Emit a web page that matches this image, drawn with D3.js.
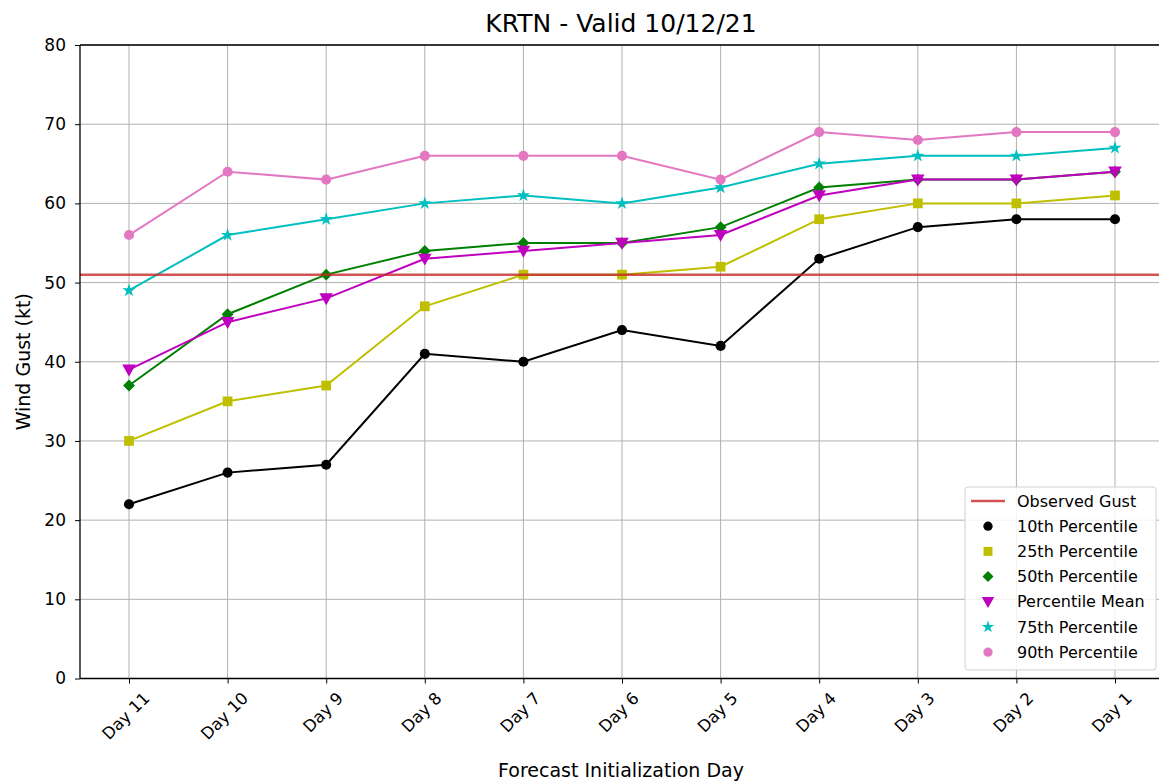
<!DOCTYPE html>
<html>
<head>
<meta charset="utf-8">
<script src="https://cdn.jsdelivr.net/npm/d3@7"></script>
<style>
  html, body { margin: 0; padding: 0; background: #ffffff; }
  svg { display: block; font-family: "DejaVu Sans", sans-serif; }
</style>
</head>
<body>
<svg id="chart" width="1159" height="782"></svg>
<script>
// Forecast initialization days (oldest to newest)
const days = ["Day 11", "Day 10", "Day 9", "Day 8", "Day 7", "Day 6", "Day 5", "Day 4", "Day 3", "Day 2", "Day 1"];

// Forecast wind gust percentiles (kt)
const p10  = [22, 26, 27, 41, 40, 44, 42, 53, 57, 58, 58];
const p25  = [30, 35, 37, 47, 51, 51, 52, 58, 60, 60, 61];
const p50  = [37, 46, 51, 54, 55, 55, 57, 62, 63, 63, 64];
const pMean = [39, 45, 48, 53, 54, 55, 56, 61, 63, 63, 64];
const p75  = [49, 56, 58, 60, 61, 60, 62, 65, 66, 66, 67];
const p90  = [56, 64, 63, 66, 66, 66, 63, 69, 68, 69, 69];

// Observed peak gust (kt)
const observedGust = 51;

const yTicks = [0, 10, 20, 30, 40, 50, 60, 70, 80];

const series = [
  { name: "10th Percentile", values: p10, color: "#000000", symbol: d3.symbolCircle, size: 80 },
  { name: "25th Percentile", values: p25, color: "#bfbf00", symbol: d3.symbolSquare, size: 95 },
  { name: "50th Percentile", values: p50, color: "#008000", symbol: d3.symbolDiamond2, size: 90 },
  { name: "Percentile Mean", values: pMean, color: "#bf00bf", symbol: "triDown", size: 60 },
  { name: "75th Percentile", values: p75, color: "#00bfbf", symbol: d3.symbolStar, size: 55 },
  { name: "90th Percentile", values: p90, color: "#e377c2", symbol: d3.symbolCircle, size: 80 }
];

const svg = d3.select("#chart");
const margin = { left: 80, top: 45, right: 1164, bottom: 678.5 };

const x = d3.scalePoint().domain(days).range([129, 1115]);
const y = d3.scaleLinear().domain([0, 80]).range([margin.bottom, margin.top]);

// Downward-pointing triangle symbol
const triDown = {
  draw(ctx, size) {
    const r = Math.sqrt(size / 1.3);
    ctx.moveTo(-r, -r * 0.75);
    ctx.lineTo(r, -r * 0.75);
    ctx.lineTo(0, r);
    ctx.closePath();
  }
};
function symbolPath(s, scale = 1) {
  const type = s.symbol === "triDown" ? triDown : s.symbol;
  return d3.symbol().type(type).size(s.size * scale)();
}

const plot = svg.append("g");

// Grid
plot.append("g").selectAll("line").data(days).join("line")
  .attr("x1", d => x(d)).attr("x2", d => x(d))
  .attr("y1", margin.top).attr("y2", margin.bottom)
  .attr("stroke", "#b0b0b0").attr("stroke-width", 1);
plot.append("g").selectAll("line").data(yTicks).join("line")
  .attr("x1", margin.left).attr("x2", margin.right)
  .attr("y1", d => y(d)).attr("y2", d => y(d))
  .attr("stroke", "#b0b0b0").attr("stroke-width", 1);

// Series lines and markers
const line = d3.line().x((d, i) => x(days[i])).y(d => y(d));
series.forEach(s => {
  const g = plot.append("g");
  g.append("path").datum(s.values)
    .attr("d", line).attr("fill", "none")
    .attr("stroke", s.color).attr("stroke-width", 2);
  g.selectAll("path.m").data(s.values).join("path")
    .attr("class", "m")
    .attr("d", symbolPath(s))
    .attr("transform", (d, i) => `translate(${x(days[i])},${y(d)})`)
    .attr("fill", s.color);
});

// Observed gust
plot.append("line")
  .attr("x1", margin.left).attr("x2", margin.right)
  .attr("y1", y(observedGust)).attr("y2", y(observedGust))
  .attr("stroke", "#c62828").attr("stroke-opacity", 0.8).attr("stroke-width", 2.5);

// Axes frame
const frame = svg.append("g").attr("stroke", "#000").attr("stroke-width", 1.3);
frame.append("line").attr("x1", margin.left).attr("x2", margin.left).attr("y1", margin.top).attr("y2", margin.bottom);
frame.append("line").attr("x1", margin.left).attr("x2", margin.right).attr("y1", margin.top).attr("y2", margin.top);
frame.append("line").attr("x1", margin.left).attr("x2", margin.right).attr("y1", margin.bottom).attr("y2", margin.bottom);

// Y axis
const yAxis = svg.append("g").attr("transform", `translate(${margin.left},0)`)
  .call(d3.axisLeft(y).tickValues(yTicks).tickSize(5).tickPadding(9));
yAxis.select(".domain").remove();
yAxis.selectAll(".tick line").attr("stroke", "#000").attr("stroke-width", 1);
yAxis.selectAll(".tick text").attr("font-size", 17).attr("fill", "#000")
  .attr("font-family", "DejaVu Sans, sans-serif");

// X axis
const xAxis = svg.append("g").attr("transform", `translate(0,${margin.bottom})`)
  .call(d3.axisBottom(x).tickSize(5).tickFormat(""));
xAxis.select(".domain").remove();
xAxis.selectAll(".tick line").attr("stroke", "#000").attr("stroke-width", 1);

const xfs = 16.5;
const xLabels = svg.append("g").selectAll("text").data(days).join("text")
  .text(d => d)
  .attr("font-size", xfs).attr("fill", "#000")
  .attr("text-anchor", "middle").attr("dominant-baseline", "central");
xLabels.each(function(d) {
  const w = this.getComputedTextLength();
  const h = (w + xfs) * Math.SQRT1_2;
  const cy = margin.bottom + 11 + h / 2;
  d3.select(this).attr("transform", `translate(${x(d) - 3},${cy}) rotate(-45)`);
});

// Titles
svg.append("text").attr("x", 621).attr("y", 32).attr("text-anchor", "middle")
  .attr("font-size", 25).attr("fill", "#000").text("KRTN - Valid 10/12/21");
svg.append("text").attr("x", 621).attr("y", 777).attr("text-anchor", "middle")
  .attr("font-size", 19).attr("fill", "#000").text("Forecast Initialization Day");
svg.append("text").attr("transform", `translate(30,${(margin.top + margin.bottom) / 2}) rotate(-90)`)
  .attr("text-anchor", "middle").attr("font-size", 19).attr("fill", "#000").text("Wind Gust (kt)");

// Legend
const legend = svg.append("g");
const lx = 965, ly = 487, lw = 191, lh = 183, rowH = 25.2;
legend.append("rect").attr("x", lx).attr("y", ly).attr("width", lw).attr("height", lh)
  .attr("rx", 3).attr("fill", "#fff").attr("fill-opacity", 0.85)
  .attr("stroke", "#d0d0d0").attr("stroke-width", 1);
const row0 = ly + 14;
legend.append("line").attr("x1", 971).attr("x2", 1005).attr("y1", row0).attr("y2", row0)
  .attr("stroke", "#c62828").attr("stroke-opacity", 0.8).attr("stroke-width", 2.5);
legend.append("text").attr("x", 1017).attr("y", row0).attr("dominant-baseline", "central")
  .attr("font-size", 16).attr("fill", "#000").text("Observed Gust");
series.forEach((s, i) => {
  const cy = row0 + (i + 1) * rowH;
  legend.append("path").attr("d", symbolPath(s, 0.85))
    .attr("transform", `translate(988,${cy})`).attr("fill", s.color);
  legend.append("text").attr("x", 1017).attr("y", cy).attr("dominant-baseline", "central")
    .attr("font-size", 16).attr("fill", "#000").text(s.name);
});
</script>
</body>
</html>
